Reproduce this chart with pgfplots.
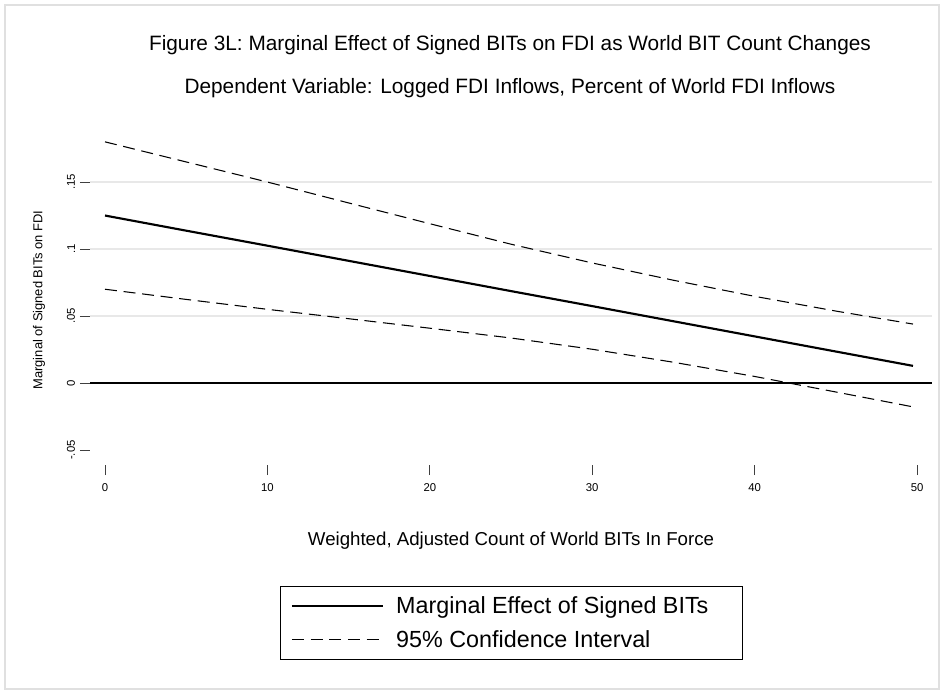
\documentclass[border=0pt]{standalone}
\usepackage{pgfplots}
\pgfplotsset{compat=1.18}
\usepackage{fontspec}
\setmainfont{Liberation Sans}

% Marginal effect and 95% bounds read along the world BIT count
\pgfplotstableread{
x      me      hi      lo
0      0.1250  0.1800  0.0700
5      0.1137  0.1650  0.0624
10     0.1025  0.1500  0.0550
15     0.0912  0.1344  0.0480
20     0.0799  0.1189  0.0409
25     0.0686  0.1036  0.0336
30     0.0574  0.0896  0.0252
35     0.0461  0.0767  0.0155
40     0.0348  0.0647  0.0049
45     0.0235  0.0537  -0.0067
49.75  0.0128  0.0440  -0.0178
}\effect

\begin{document}
\begin{tikzpicture}
% page and outer frame
\path[fill=white] (0pt,0pt) rectangle (708pt,-520.5pt);
\draw[black!12, line width=0.8pt] (3.75pt,-3.75pt) rectangle (704.25pt,-516.75pt);

\node[font=\fontsize{15.6}{18}\selectfont] at (382.5pt,-33.75pt)
  {Figure 3L: Marginal Effect of Signed BITs on FDI as World BIT Count Changes};
\node[font=\fontsize{15.6}{18}\selectfont] at (382.5pt,-66pt)
  {Dependent Variable: Logged FDI Inflows, Percent of World FDI Inflows};

\begin{axis}[
  at={(67.5pt,-101.25pt)}, anchor=north west,
  width=631.5pt, height=247.5pt, scale only axis,
  xmin=-0.924, xmax=50.92, ymin=-0.0612, ymax=0.1851,
  axis line style={draw=none},
  xtick={0,10,20,30,40,50},
  xticklabels={0,10,20,30,40,50},
  ytick={-0.05,0,0.05,0.1,0.15},
  yticklabels={-.05,0,.05,.1,.15},
  tick align=outside, major tick length=7.5pt,
  xtick pos=bottom, ytick pos=left,
  tick style={black!75, line width=0.75pt},
  ticklabel style={font=\fontsize{8.5}{10}\selectfont},
  xticklabel style={yshift=-3pt},
  yticklabel style={rotate=90, anchor=south, inner ysep=3.5pt},
  xlabel={Weighted, Adjusted Count of World BITs In Force},
  xlabel style={font=\fontsize{14}{16}\selectfont, at={(rel axis cs:0.5,0)}, anchor=center, yshift=-57pt},
  ylabel={Marginal of Signed BITs on FDI},
  ylabel style={font=\fontsize{9.7}{11}\selectfont, yshift=3pt},
  ylabel shift=6.5pt,
  clip=false,
  legend style={at={(0.5006,-0.4788)}, anchor=center, draw=black, line width=0.75pt,
    font=\fontsize{17.5}{20}\selectfont, inner xsep=7.5pt, inner ysep=6pt, row sep=7pt},
  legend cell align=left,
  legend image code/.code={\draw[#1] (0pt,0pt) -- (68pt,0pt);},
]
% light horizontal grid
\draw[black!9, line width=1.5pt] (axis cs:-0.924,0.05) -- (axis cs:50.92,0.05);
\draw[black!9, line width=1.5pt] (axis cs:-0.924,0.10) -- (axis cs:50.92,0.10);
\draw[black!9, line width=1.5pt] (axis cs:-0.924,0.15) -- (axis cs:50.92,0.15);
\addplot[black, line width=1.6pt] table[x=x, y=me] {\effect};
\addlegendentry{\hspace*{7.5pt}\makebox[250pt][l]{Marginal Effect of Signed BITs}}
\addplot[black, line width=0.8pt, dash pattern=on 9pt off 5pt, forget plot] table[x=x, y=lo] {\effect};
\addplot[black, line width=0.8pt, dash pattern=on 9pt off 5pt] table[x=x, y=hi] {\effect};
\addlegendentry{\hspace*{7.5pt}\makebox[250pt][l]{95\% Confidence Interval}}
% zero reference line
\draw[black, line width=1.6pt] (axis cs:-0.924,0) -- (axis cs:50.92,0);
\end{axis}
\end{tikzpicture}
\end{document}
